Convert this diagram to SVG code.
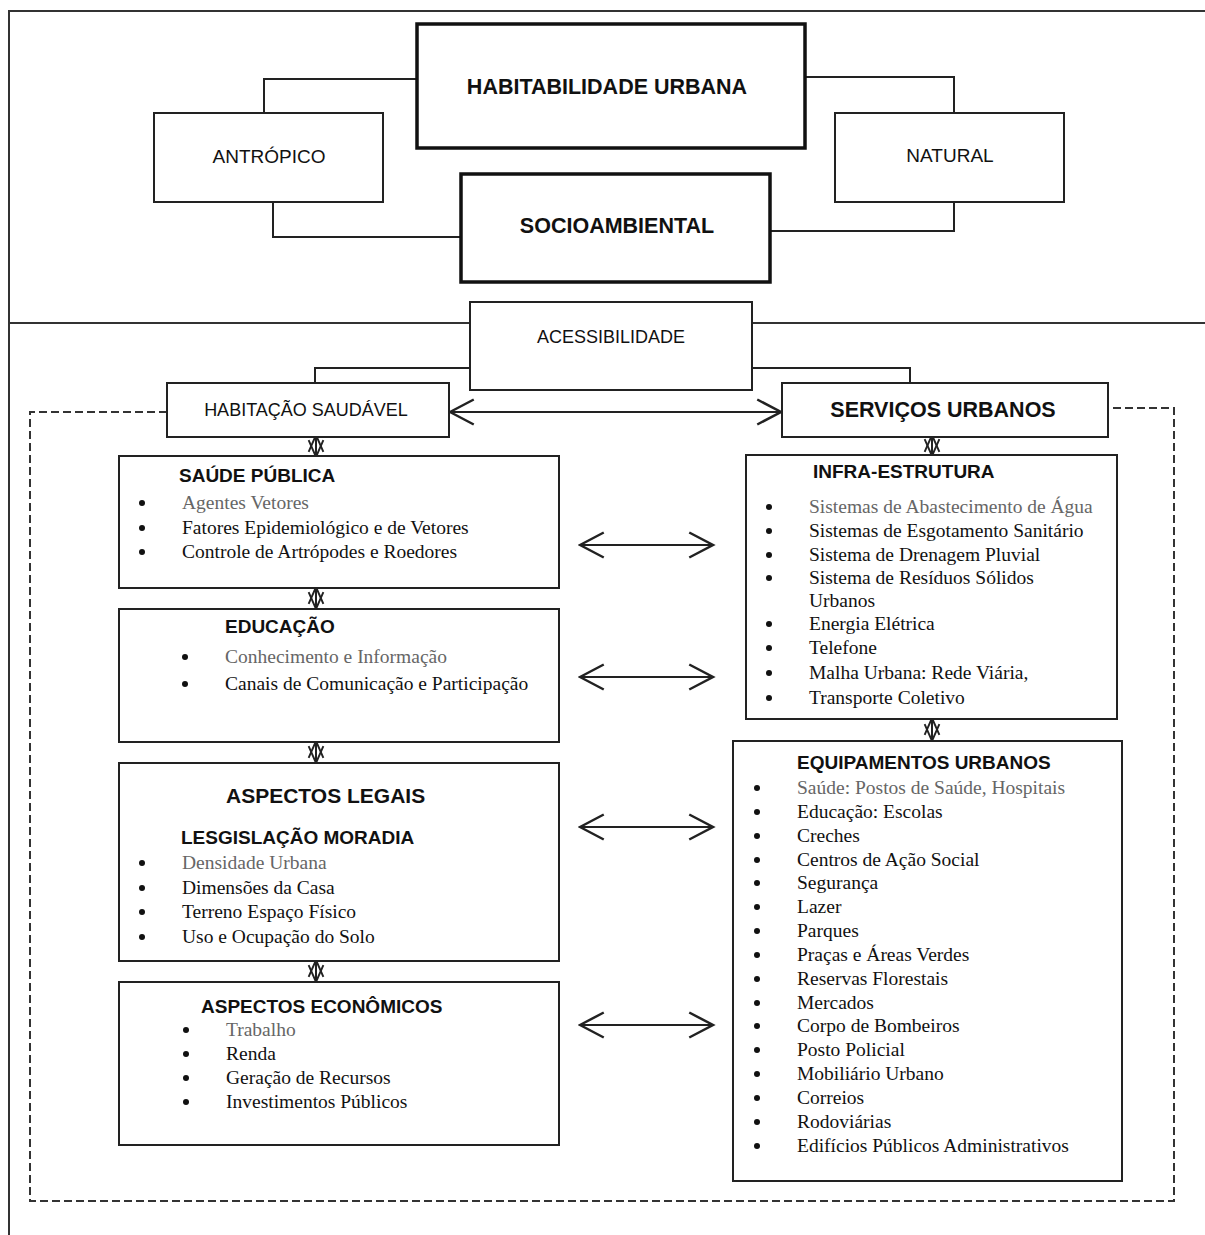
<svg xmlns="http://www.w3.org/2000/svg" width="1205" height="1235" viewBox="0 0 1205 1235">
<style>
.frame{fill:none;stroke:#333;stroke-width:2}
.box{fill:#fff;stroke:#222;stroke-width:2}
.thick{fill:#fff;stroke:#111;stroke-width:3.5}
.ln{fill:none;stroke:#222;stroke-width:2}
.dash{fill:none;stroke:#333;stroke-width:2;stroke-dasharray:8 4}
.sans{font-family:"Liberation Sans",Arial,sans-serif;fill:#111}
.b{font-weight:bold}
.t{font-family:"Liberation Serif","Times New Roman",serif;font-size:19.5px;fill:#111}
.g{fill:#666}
.mid{text-anchor:middle}
.dot{fill:#111}
</style>
<defs>
<marker id="ah" markerUnits="userSpaceOnUse" markerWidth="30" markerHeight="30" viewBox="-22 -12 24 24" refX="0" refY="0" orient="auto-start-reverse">
<path d="M-19,-10 L0,0 L-19,10" fill="none" stroke="#222" stroke-width="2"/>
</marker>
<marker id="sh" markerUnits="userSpaceOnUse" markerWidth="20" markerHeight="20" viewBox="-17 -9 19 18" refX="0" refY="0" orient="auto-start-reverse">
<path d="M-16,-7 L0,0 L-16,7" fill="none" stroke="#222" stroke-width="1.8"/>
</marker>
</defs>

<g id="frame">
<path class="frame" d="M1205,11 H9 V1235"/>
<path class="frame" d="M9,323 H1205"/>
<path class="dash" d="M167,412 H30 V1201 H1174 V408 H1108"/>
</g>

<g id="connectors">
<polyline class="ln" points="264,113 264,79 417,79"/>
<polyline class="ln" points="805,77 954,77 954,113"/>
<polyline class="ln" points="273,202 273,237 461,237"/>
<polyline class="ln" points="954,202 954,231 770,231"/>
<polyline class="ln" points="470,368 315,368 315,383"/>
<polyline class="ln" points="752,368 910,368 910,383"/>
<line class="ln" x1="450" y1="412" x2="781" y2="412" marker-start="url(#ah)" marker-end="url(#ah)"/>
<line class="ln" x1="580" y1="545" x2="713" y2="545" marker-start="url(#ah)" marker-end="url(#ah)"/>
<line class="ln" x1="580" y1="677" x2="713" y2="677" marker-start="url(#ah)" marker-end="url(#ah)"/>
<line class="ln" x1="580" y1="827" x2="713" y2="827" marker-start="url(#ah)" marker-end="url(#ah)"/>
<line class="ln" x1="580" y1="1025" x2="713" y2="1025" marker-start="url(#ah)" marker-end="url(#ah)"/>
<line class="ln" x1="316" y1="435" x2="316" y2="457" marker-start="url(#sh)" marker-end="url(#sh)"/>
<line class="ln" x1="316" y1="587" x2="316" y2="609" marker-start="url(#sh)" marker-end="url(#sh)"/>
<line class="ln" x1="316" y1="741" x2="316" y2="763" marker-start="url(#sh)" marker-end="url(#sh)"/>
<line class="ln" x1="316" y1="960" x2="316" y2="982" marker-start="url(#sh)" marker-end="url(#sh)"/>
<line class="ln" x1="932" y1="435" x2="932" y2="456" marker-start="url(#sh)" marker-end="url(#sh)"/>
<line class="ln" x1="932" y1="718" x2="932" y2="741" marker-start="url(#sh)" marker-end="url(#sh)"/>
</g>

<g id="habitabilidade">
<rect class="thick" x="417" y="24" width="388" height="124"/>
<text class="sans b mid" x="607" y="94" font-size="21.5">HABITABILIDADE URBANA</text>
</g>
<g id="antropico">
<rect class="box" x="154" y="113" width="229" height="89"/>
<text class="sans mid" x="269" y="163" font-size="19">ANTRÓPICO</text>
</g>
<g id="natural">
<rect class="box" x="835" y="113" width="229" height="89"/>
<text class="sans mid" x="950" y="162" font-size="19">NATURAL</text>
</g>
<g id="socioambiental">
<rect class="thick" x="461" y="174" width="309" height="108"/>
<text class="sans b mid" x="617" y="233" font-size="21.5">SOCIOAMBIENTAL</text>
</g>
<g id="acessibilidade">
<rect class="box" x="470" y="302" width="282" height="88" stroke-width="3"/>
<text class="sans mid" x="611" y="343" font-size="18">ACESSIBILIDADE</text>
</g>
<g id="habitacao">
<rect class="box" x="167" y="383" width="282" height="54"/>
<text class="sans mid" x="306" y="416" font-size="18">HABITAÇÃO SAUDÁVEL</text>
</g>
<g id="servicos">
<rect class="box" x="782" y="383" width="326" height="54"/>
<text class="sans b mid" x="943" y="417" font-size="21.5">SERVIÇOS URBANOS</text>
</g>

<g id="saude">
<rect class="box" x="119" y="456" width="440" height="132"/>
<text class="sans b" x="179" y="482" font-size="19">SAÚDE PÚBLICA</text>
<circle class="dot" cx="142" cy="503" r="3"/><text class="t g" x="182" y="509">Agentes Vetores</text>
<circle class="dot" cx="142" cy="528" r="3"/><text class="t" x="182" y="534">Fatores Epidemiológico e de Vetores</text>
<circle class="dot" cx="142" cy="552" r="3"/><text class="t" x="182" y="558">Controle de Artrópodes e Roedores</text>
</g>

<g id="educacao">
<rect class="box" x="119" y="609" width="440" height="133"/>
<text class="sans b" x="225" y="633" font-size="19">EDUCAÇÃO</text>
<circle class="dot" cx="185" cy="657" r="3"/><text class="t g" x="225" y="663">Conhecimento e Informação</text>
<circle class="dot" cx="185" cy="684" r="3"/><text class="t" x="225" y="690">Canais de Comunicação e Participação</text>
</g>

<g id="legais">
<rect class="box" x="119" y="763" width="440" height="198"/>
<text class="sans b" x="226" y="803" font-size="21">ASPECTOS LEGAIS</text>
<text class="sans b" x="181" y="844" font-size="19">LESGISLAÇÃO MORADIA</text>
<circle class="dot" cx="142" cy="863" r="3"/><text class="t g" x="182" y="869">Densidade Urbana</text>
<circle class="dot" cx="142" cy="888" r="3"/><text class="t" x="182" y="894">Dimensões da Casa</text>
<circle class="dot" cx="142" cy="912" r="3"/><text class="t" x="182" y="918">Terreno Espaço Físico</text>
<circle class="dot" cx="142" cy="937" r="3"/><text class="t" x="182" y="943">Uso e Ocupação do Solo</text>
</g>

<g id="economicos">
<rect class="box" x="119" y="982" width="440" height="163"/>
<text class="sans b" x="201" y="1013" font-size="19">ASPECTOS ECONÔMICOS</text>
<circle class="dot" cx="186" cy="1030" r="3"/><text class="t g" x="226" y="1036">Trabalho</text>
<circle class="dot" cx="186" cy="1054" r="3"/><text class="t" x="226" y="1060">Renda</text>
<circle class="dot" cx="186" cy="1078" r="3"/><text class="t" x="226" y="1084">Geração de Recursos</text>
<circle class="dot" cx="186" cy="1102" r="3"/><text class="t" x="226" y="1108">Investimentos Públicos</text>
</g>

<g id="infra">
<rect class="box" x="746" y="455" width="371" height="264"/>
<text class="sans b" x="813" y="478" font-size="19">INFRA-ESTRUTURA</text>
<circle class="dot" cx="769" cy="507" r="3"/><text class="t g" x="809" y="513">Sistemas de Abastecimento de Água</text>
<circle class="dot" cx="769" cy="531" r="3"/><text class="t" x="809" y="537">Sistemas de Esgotamento Sanitário</text>
<circle class="dot" cx="769" cy="555" r="3"/><text class="t" x="809" y="561">Sistema de Drenagem Pluvial</text>
<circle class="dot" cx="769" cy="578" r="3"/><text class="t" x="809" y="584">Sistema de Resíduos Sólidos</text>
<text class="t" x="809" y="607">Urbanos</text>
<circle class="dot" cx="769" cy="624" r="3"/><text class="t" x="809" y="630">Energia Elétrica</text>
<circle class="dot" cx="769" cy="648" r="3"/><text class="t" x="809" y="654">Telefone</text>
<circle class="dot" cx="769" cy="673" r="3"/><text class="t" x="809" y="679">Malha Urbana: Rede Viária,</text>
<circle class="dot" cx="769" cy="698" r="3"/><text class="t" x="809" y="704">Transporte Coletivo</text>
</g>

<g id="equipamentos">
<rect class="box" x="733" y="741" width="389" height="440"/>
<text class="sans b" x="797" y="769" font-size="19">EQUIPAMENTOS URBANOS</text>
<circle class="dot" cx="757" cy="788" r="3"/><text class="t g" x="797" y="794">Saúde: Postos de Saúde, Hospitais</text>
<circle class="dot" cx="757" cy="812" r="3"/><text class="t" x="797" y="818">Educação: Escolas</text>
<circle class="dot" cx="757" cy="836" r="3"/><text class="t" x="797" y="842">Creches</text>
<circle class="dot" cx="757" cy="860" r="3"/><text class="t" x="797" y="866">Centros de Ação Social</text>
<circle class="dot" cx="757" cy="883" r="3"/><text class="t" x="797" y="889">Segurança</text>
<circle class="dot" cx="757" cy="907" r="3"/><text class="t" x="797" y="913">Lazer</text>
<circle class="dot" cx="757" cy="931" r="3"/><text class="t" x="797" y="937">Parques</text>
<circle class="dot" cx="757" cy="955" r="3"/><text class="t" x="797" y="961">Praças e Áreas Verdes</text>
<circle class="dot" cx="757" cy="979" r="3"/><text class="t" x="797" y="985">Reservas Florestais</text>
<circle class="dot" cx="757" cy="1003" r="3"/><text class="t" x="797" y="1009">Mercados</text>
<circle class="dot" cx="757" cy="1026" r="3"/><text class="t" x="797" y="1032">Corpo de Bombeiros</text>
<circle class="dot" cx="757" cy="1050" r="3"/><text class="t" x="797" y="1056">Posto Policial</text>
<circle class="dot" cx="757" cy="1074" r="3"/><text class="t" x="797" y="1080">Mobiliário Urbano</text>
<circle class="dot" cx="757" cy="1098" r="3"/><text class="t" x="797" y="1104">Correios</text>
<circle class="dot" cx="757" cy="1122" r="3"/><text class="t" x="797" y="1128">Rodoviárias</text>
<circle class="dot" cx="757" cy="1146" r="3"/><text class="t" x="797" y="1152">Edifícios Públicos Administrativos</text>
</g>
</svg>
